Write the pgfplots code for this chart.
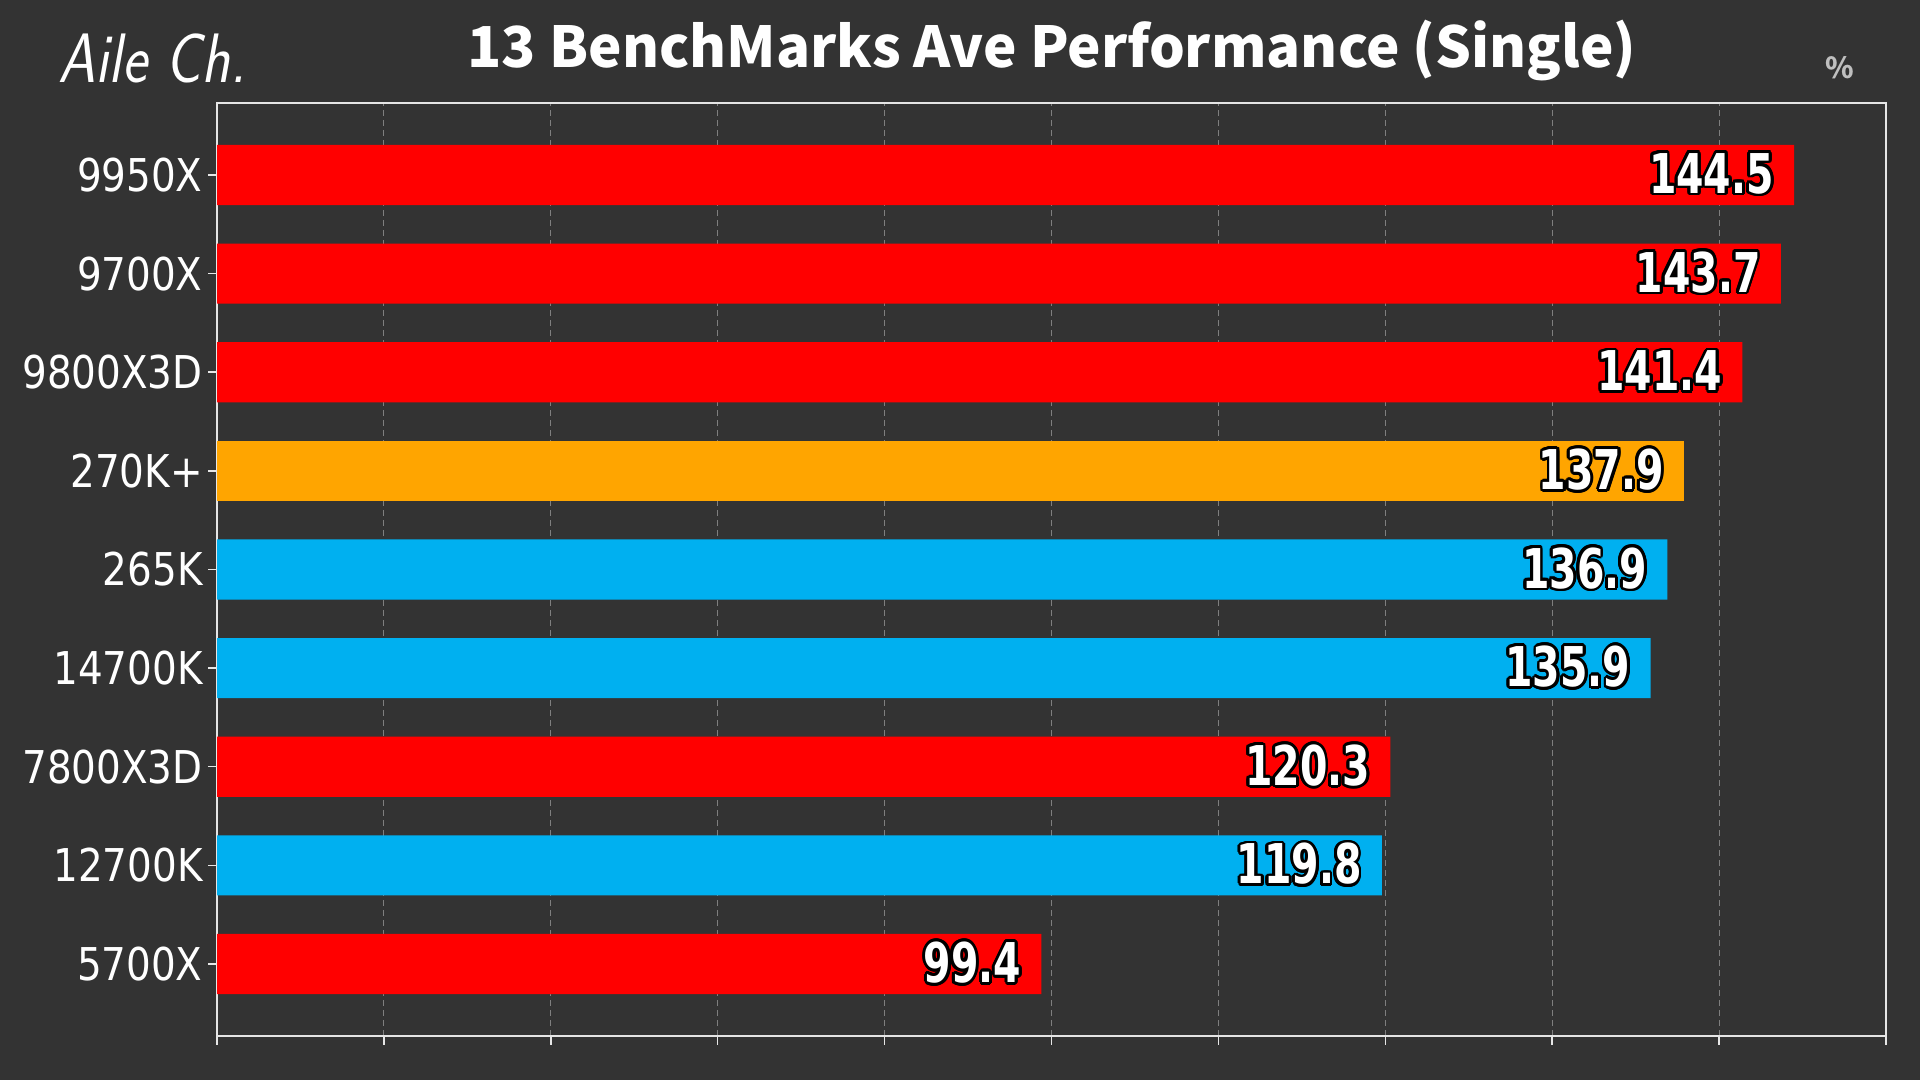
\documentclass[border=0pt]{standalone}
\usepackage{fontspec}
\usepackage{pgfplots}
\pgfplotsset{compat=1.18}
\usepackage{contour}
\contourlength{1.4pt}
\contournumber{20}
\newfontfamily\titlefont{Noto Sans CJK JP}
\newfontfamily\labfont{DejaVu Sans}[FakeStretch=0.86]
\newfontfamily\valfont{DejaVu Sans}[FakeStretch=0.72]
\definecolor{bg}{HTML}{333333}
\definecolor{barred}{HTML}{FF0000}
\definecolor{barorange}{HTML}{FFA500}
\definecolor{barblue}{HTML}{00B0F0}
\definecolor{axisc}{HTML}{E6E6E6}
\definecolor{gridc}{HTML}{7F7F7F}
\definecolor{pctc}{HTML}{BFBFBF}
\begin{document}
\begin{tikzpicture}[x=1pt,y=1pt]
\fill[bg] (0,0) rectangle (960,540);
\begin{axis}[
  at={(108.5pt,22pt)}, anchor=south west,
  scale only axis, width=834.5pt, height=466.5pt,
  xbar, bar width=0.61,
  xmin=50, xmax=150, ymin=-0.73, ymax=8.73,
  xtick={50,60,...,150}, xticklabels={},
  ytick={0,...,8},
  yticklabels={5700X,12700K,7800X3D,14700K,265K,270K+,9800X3D,9700X,9950X},
  tick align=outside, major tick length=4.5pt,
  xtick pos=bottom, ytick pos=left,
  axis line style={color=axisc, line width=0.75pt},
  tick style={color=axisc, line width=0.75pt},
  xmajorgrids,
  grid style={color=gridc, dash pattern=on 3pt off 2pt, line width=0.5pt},
  yticklabel style={font=\labfont\fontsize{22.6}{24}\selectfont, text=white, inner sep=2pt, xshift=-0.5pt},
  /pgf/number format/assume math mode=true,
  point meta=x,
  nodes near coords={\contour{black}{\pgfmathprintnumber[fixed,fixed zerofill,precision=1]{\pgfplotspointmeta}}},
  every node near coord/.append style={anchor=east, xshift=-10pt, font=\valfont\bfseries\fontsize{27.4}{28}\selectfont, text=white, inner sep=0pt},
]
\addplot[fill=barred, draw=none, bar shift=0pt] coordinates {(144.5,8) (143.7,7) (141.4,6) (120.3,2) (99.4,0)};
\addplot[fill=barorange, draw=none, bar shift=0pt] coordinates {(137.9,5)};
\addplot[fill=barblue, draw=none, bar shift=0pt] coordinates {(136.9,4) (135.9,3) (119.8,1)};
\end{axis}
\node[anchor=base, text=white, font=\titlefont\bfseries\fontsize{28.2}{30}\selectfont] at (526,506) {13 BenchMarks Ave Performance (Single)};
\node[anchor=base west, text=white, inner sep=0pt, xscale=0.85, transform shape, font=\sffamily\itshape\fontsize{35}{38}\selectfont] at (29,498.5) {Aile Ch.};
\node[anchor=center, text=pctc, font=\titlefont\bfseries\fontsize{14.5}{16}\selectfont] at (920,506) {\%};
\end{tikzpicture}
\end{document}
